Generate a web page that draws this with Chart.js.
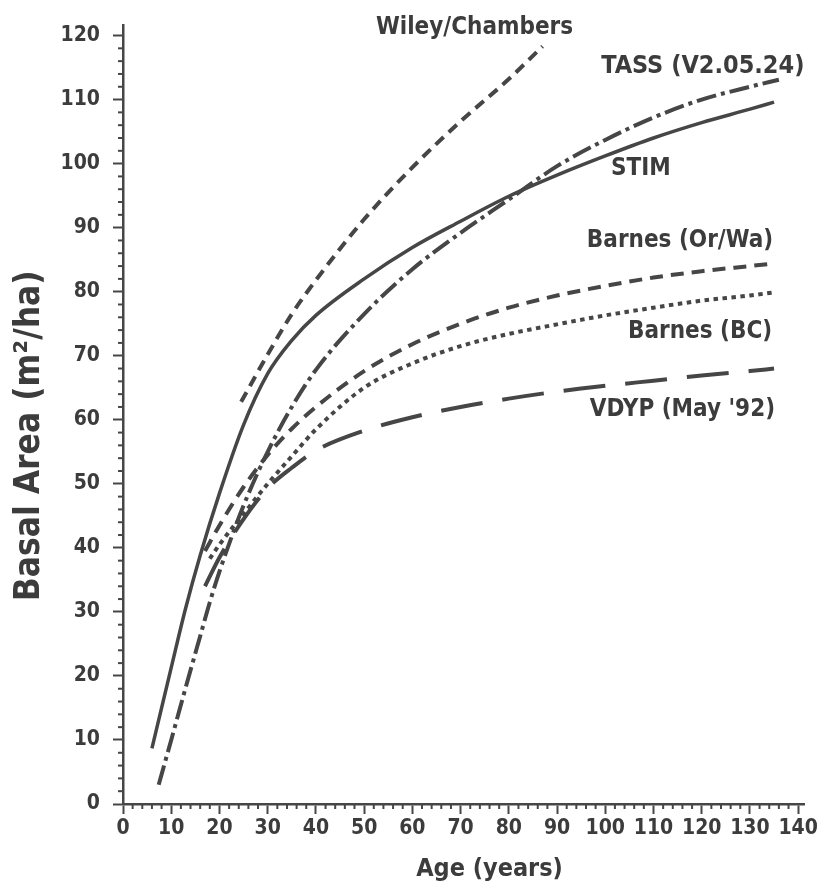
<!DOCTYPE html>
<html>
<head>
<meta charset="utf-8">
<script src="https://cdn.jsdelivr.net/npm/chart.js@4.4.1/dist/chart.umd.min.js"></script>
<style>
  html, body { margin: 0; padding: 0; background: #fff; }
  #wrap { width: 820px; height: 887px; }
</style>
</head>
<body>
<div id="wrap"><canvas id="baChart" width="820" height="887"></canvas></div>
<script>
// basal area vs age

const stimAge = [6, 10, 13, 16, 20, 25, 30, 35, 40, 50, 60, 70, 80, 90, 100, 110, 120, 130, 135];
const stimBA  = [8.7, 21.3, 30.6, 38.8, 48.5, 59.2, 67.2, 72.4, 76.3, 82, 86.9, 91, 94.9, 98.2, 101.2, 104, 106.4, 108.5, 109.6];

const tassAge = [7.4, 10, 13, 16, 18, 20, 25, 30, 35, 40, 50, 60, 70, 80, 90, 100, 110, 120, 130, 136];
const tassBA  = [3, 10, 18.2, 26.2, 31.5, 36.3, 46.6, 55, 62, 67.8, 76.5, 83.5, 89.2, 94.4, 99.6, 103.7, 107.2, 110, 112, 113.1];

const wileyAge = [24.5, 30, 35, 40, 50, 60, 70, 80, 87];
const wileyBA  = [62.8, 70.2, 76.5, 81.8, 91.3, 99.4, 106.6, 113.2, 118.3];

const orwaAge = [17, 20, 25, 30, 35, 40, 50, 60, 70, 80, 90, 100, 110, 120, 130, 135];
const orwaBA  = [39.5, 43.5, 49.5, 54.5, 58.6, 62, 67.6, 71.8, 75, 77.5, 79.4, 80.9, 82.2, 83.2, 84, 84.4];

const bcAge = [18, 20, 25, 30, 35, 40, 50, 60, 70, 80, 90, 100, 110, 120, 130, 135];
const bcBA  = [38.3, 40.5, 45.3, 50, 54.3, 58.5, 65, 68.8, 71.5, 73.4, 74.9, 76.3, 77.5, 78.6, 79.4, 79.9];

const vdypAge = [17, 20, 25, 30, 35, 40, 50, 60, 70, 80, 90, 100, 110, 120, 130, 135];
const vdypBA  = [34, 38.5, 44.5, 49.3, 52.5, 55.2, 58.3, 60.4, 62, 63.3, 64.4, 65.3, 66.1, 66.9, 67.6, 68];

const xTicks = [0, 10, 20, 30, 40, 50, 60, 70, 80, 90, 100, 110, 120, 130, 140];
const yTicks = [0, 10, 20, 30, 40, 50, 60, 70, 80, 90, 100, 110, 120];

const curveLabels = ['Wiley/Chambers', 'TASS (V2.05.24)', 'STIM', 'Barnes (Or/Wa)', 'Barnes (BC)', "VDYP (May '92)"];
const xTitle = 'Age (years)';
const yTitle = 'Basal Area (m²/ha)';

const INK = '#464646';
const TXT = '#3c3c3c';
const FONT = '"DejaVu Sans Condensed", "Liberation Sans", sans-serif';

function pts(ages, vals) {
  return ages.map((a, i) => ({ x: a, y: vals[i] }));
}

function line(label, ages, vals, dash, width) {
  return {
    label,
    data: pts(ages, vals),
    borderColor: INK,
    borderWidth: width,
    borderDash: dash,
    borderCapStyle: 'butt',
    pointRadius: 0,
    fill: false,
    cubicInterpolationMode: 'monotone'
  };
}

// where the curve names sit, in data units (right edge / middle)
const labelSpots = [
  { x: 72.9, y: 121.25, align: 'center', size: 24 },
  { x: 141.3, y: 115.2, align: 'right', size: 25 },
  { x: 113.6, y: 99.2, align: 'right', size: 24 },
  { x: 134.8, y: 88.0, align: 'right', size: 24 },
  { x: 134.6, y: 73.8, align: 'right', size: 24 },
  { x: 135.2, y: 61.6, align: 'right', size: 24 }
];

const extras = {
  id: 'extras',
  afterDraw(chart) {
    const { ctx, scales: { x, y } } = chart;
    ctx.save();
    ctx.strokeStyle = INK;
    ctx.lineWidth = 2;
    // minor ticks every 2 units
    for (let v = 2; v < 140; v += 2) {
      if (v % 10 === 0) continue;
      const px = x.getPixelForValue(v);
      ctx.beginPath();
      ctx.moveTo(px, y.bottom);
      ctx.lineTo(px, y.bottom + 5);
      ctx.stroke();
    }
    for (let v = 2; v < 120; v += 2) {
      if (v % 10 === 0) continue;
      const py = y.getPixelForValue(v);
      ctx.beginPath();
      ctx.moveTo(x.left, py);
      ctx.lineTo(x.left - 5, py);
      ctx.stroke();
    }
    // curve names
    ctx.fillStyle = TXT;
    ctx.textBaseline = 'middle';
    curveLabels.forEach((t, i) => {
      const s = labelSpots[i];
      ctx.font = 'bold ' + s.size + 'px ' + FONT;
      ctx.textAlign = s.align;
      ctx.fillText(t, x.getPixelForValue(s.x), y.getPixelForValue(s.y));
    });
    // axis titles (the original sits a bit off-centre)
    ctx.textAlign = 'center';
    ctx.font = 'bold 25px ' + FONT;
    ctx.fillText(xTitle, x.getPixelForValue(76), y.bottom + 65);
    ctx.translate(x.left - 93, y.getPixelForValue(57.5));
    ctx.rotate(-Math.PI / 2);
    ctx.font = 'bold 35px ' + FONT;
    ctx.fillText(yTitle, 0, 0);
    ctx.restore();
  }
};

new Chart(document.getElementById('baChart'), {
  type: 'line',
  data: {
    datasets: [
      line('STIM', stimAge, stimBA, [], 3.5),
      line('Wiley/Chambers', wileyAge, wileyBA, [11, 7], 4),
      line('TASS (V2.05.24)', tassAge, tassBA, [20, 5, 4, 5], 4),
      line('Barnes (Or/Wa)', orwaAge, orwaBA, [13, 8], 4),
      line('Barnes (BC)', bcAge, bcBA, [4.5, 4.5], 4),
      line("VDYP (May '92)", vdypAge, vdypBA, [42, 20], 4)
    ]
  },
  options: {
    responsive: false,
    animation: false,
    layout: { padding: { top: 22, right: 13, left: 0, bottom: 0 } },
    plugins: { legend: { display: false }, tooltip: { enabled: false } },
    scales: {
      x: {
        type: 'linear',
        min: 0,
        max: 141.24,
        afterFit(s) { s.height = 83; },
        afterBuildTicks(s) { s.ticks = xTicks.map(v => ({ value: v })); },
        grid: { drawOnChartArea: false, tickLength: 10, tickColor: INK, tickWidth: 2 },
        border: { color: INK, width: 2.5 },
        ticks: { color: TXT, padding: 2, maxRotation: 0, autoSkip: false, font: { family: FONT, size: 21, weight: 'bold' } }
      },
      y: {
        type: 'linear',
        min: 0,
        max: 121.55,
        afterFit(s) { s.width = 123; },
        afterBuildTicks(s) { s.ticks = yTicks.map(v => ({ value: v })); },
        grid: { drawOnChartArea: false, tickLength: 10, tickColor: INK, tickWidth: 2 },
        border: { color: INK, width: 2.5 },
        ticks: { color: TXT, padding: 13, autoSkip: false, font: { family: FONT, size: 21, weight: 'bold' } }
      }
    }
  },
  plugins: [extras]
});
</script>
</body>
</html>
